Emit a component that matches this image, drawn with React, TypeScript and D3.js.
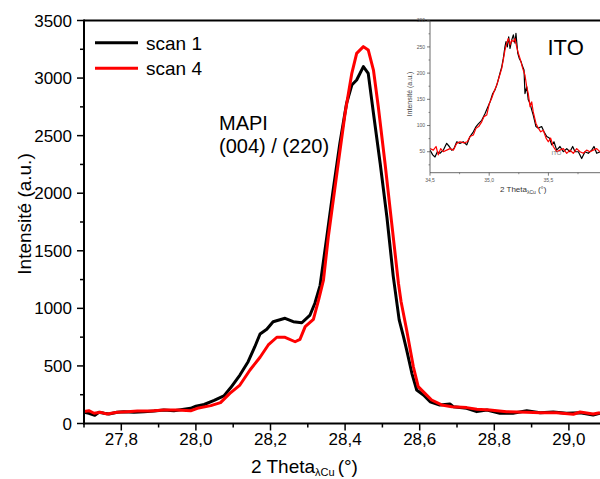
import React from "react";
import * as d3 from "d3";

// ---------- data ----------
const scan1Theta = [27.700, 27.713, 27.729, 27.740, 27.754, 27.767, 27.789, 27.807, 27.834, 27.861, 27.888, 27.914, 27.941, 27.968, 27.986, 28.000, 28.022, 28.049, 28.075, 28.093, 28.118, 28.140, 28.158, 28.172, 28.190, 28.207, 28.239, 28.261, 28.284, 28.306, 28.319, 28.333, 28.351, 28.368, 28.386, 28.404, 28.418, 28.431, 28.449, 28.462, 28.476, 28.494, 28.512, 28.529, 28.545, 28.556, 28.565, 28.579, 28.592, 28.610, 28.628, 28.654, 28.681, 28.690, 28.726, 28.753, 28.780, 28.815, 28.850, 28.887, 28.923, 28.958, 28.994, 29.030, 29.065, 29.083];
const scan1Int = [97, 89, 71, 97, 89, 83, 97, 103, 97, 103, 109, 117, 111, 123, 132, 150, 165, 200, 240, 310, 421, 537, 667, 777, 818, 884, 914, 884, 875, 942, 1044, 1200, 1622, 2028, 2434, 2781, 2940, 2983, 3099, 3041, 2694, 2260, 1796, 1280, 900, 760, 640, 436, 291, 248, 189, 161, 169, 146, 132, 103, 117, 89, 89, 111, 94, 100, 89, 94, 74, 89];

const scan4Theta = [27.700, 27.713, 27.727, 27.745, 27.762, 27.789, 27.816, 27.843, 27.879, 27.914, 27.950, 27.986, 28.004, 28.040, 28.066, 28.091, 28.118, 28.145, 28.172, 28.194, 28.217, 28.239, 28.266, 28.279, 28.293, 28.315, 28.329, 28.342, 28.355, 28.378, 28.400, 28.418, 28.431, 28.449, 28.462, 28.476, 28.489, 28.507, 28.525, 28.543, 28.550, 28.565, 28.583, 28.596, 28.614, 28.632, 28.659, 28.686, 28.726, 28.753, 28.788, 28.833, 28.887, 28.923, 28.967, 29.012, 29.030, 29.065, 29.083];
const scan4Int = [103, 111, 89, 97, 83, 97, 103, 109, 109, 117, 117, 111, 132, 155, 181, 262, 334, 465, 575, 682, 749, 749, 710, 731, 841, 905, 1073, 1246, 1622, 2172, 2694, 3041, 3215, 3273, 3244, 3070, 2751, 2260, 1738, 1218, 1060, 812, 493, 320, 262, 204, 161, 146, 138, 123, 117, 103, 97, 94, 94, 80, 100, 82, 94];

const itoTheta1 = [34.500, 34.523, 34.542, 34.562, 34.584, 34.612, 34.641, 34.663, 34.683, 34.703, 34.726, 34.753, 34.781, 34.810, 34.838, 34.866, 34.889, 34.908, 34.937, 34.965, 34.984, 35.007, 35.030, 35.049, 35.068, 35.091, 35.106, 35.119, 35.133, 35.142, 35.153, 35.165, 35.176, 35.190, 35.204, 35.218, 35.226, 35.241, 35.254, 35.269, 35.283, 35.294, 35.302, 35.317, 35.330, 35.345, 35.359, 35.372, 35.395, 35.415, 35.443, 35.463, 35.486, 35.508, 35.528, 35.547, 35.570, 35.598, 35.626, 35.655, 35.682, 35.705, 35.725, 35.753, 35.781, 35.809, 35.837, 35.866, 35.885, 35.908, 35.936];
const itoInt1 = [53, 44, 40, 50, 47, 53, 66, 60, 53, 56, 69, 66, 69, 63, 79, 88, 98, 103, 110, 123, 133, 145, 161, 168, 180, 200, 212, 228, 250, 260, 250, 269, 247, 263, 273, 257, 276, 238, 228, 222, 212, 206, 161, 174, 149, 142, 130, 120, 98, 95, 98, 88, 79, 76, 63, 69, 53, 60, 50, 56, 50, 60, 50, 50, 37, 50, 47, 53, 60, 47, 50];

const itoTheta4 = [34.500, 34.528, 34.551, 34.570, 34.590, 34.612, 34.641, 34.669, 34.697, 34.726, 34.753, 34.787, 34.815, 34.838, 34.866, 34.889, 34.911, 34.937, 34.956, 34.979, 35.001, 35.021, 35.041, 35.063, 35.085, 35.106, 35.119, 35.133, 35.148, 35.161, 35.176, 35.190, 35.204, 35.218, 35.232, 35.246, 35.260, 35.283, 35.302, 35.317, 35.330, 35.345, 35.359, 35.372, 35.395, 35.415, 35.435, 35.457, 35.480, 35.499, 35.519, 35.541, 35.570, 35.598, 35.626, 35.655, 35.682, 35.710, 35.739, 35.767, 35.795, 35.823, 35.851, 35.879, 35.908, 35.936];
const itoInt4 = [56, 53, 60, 44, 56, 50, 53, 56, 53, 66, 69, 67, 69, 79, 82, 95, 98, 107, 117, 120, 142, 152, 165, 177, 193, 209, 225, 244, 257, 266, 254, 263, 260, 266, 250, 238, 228, 209, 196, 174, 161, 136, 145, 126, 104, 95, 88, 91, 76, 69, 76, 60, 50, 53, 56, 47, 53, 47, 56, 50, 47, 53, 50, 53, 56, 50];

const mainYTicks = [0, 500, 1000, 1500, 2000, 2500, 3000, 3500];
const mainXTicks = [27.8, 28.0, 28.2, 28.4, 28.6, 28.8, 29.0];
const insetYTicks = [50, 100, 150, 200, 250, 300];
const insetXTicks = [34.5, 35.0, 35.5];

const seriesNames = ["scan 1", "scan 4"];
const seriesColors = ["#000000", "#ff0000"];

const FONT = "'Liberation Sans', Arial, Helvetica, sans-serif";
const fmt = (v: number) => v.toFixed(1).replace(".", ",");

export default function App() {
  const W = 600, H = 479;
  // main plot scales
  const x = d3.scaleLinear().domain([27.7, 29.1]).range([84, 84 + 1.4 * 373]);
  const y = d3.scaleLinear().domain([0, 3500]).range([423.5, 20.5]);
  // inset scales
  const xi = d3.scaleLinear().domain([34.5, 36.0]).range([430, 430 + 1.5 * 118.4]);
  const yi = d3.scaleLinear().domain([10, 300]).range([172.7, 20.7]);

  const line = d3.line<[number, number]>().x((d) => x(d[0])).y((d) => y(d[1]));
  const linei = d3.line<[number, number]>().x((d) => xi(d[0])).y((d) => yi(d[1]));

  const s1 = scan1Theta.map((t, i) => [t, scan1Int[i]] as [number, number]);
  const s4 = scan4Theta.map((t, i) => [t, scan4Int[i]] as [number, number]);
  const i1 = itoTheta1.map((t, i) => [t, itoInt1[i]] as [number, number]);
  const i4 = itoTheta4.map((t, i) => [t, itoInt4[i]] as [number, number]);

  const x0 = x.range()[0];
  const y0 = y(0);
  const yMinor = d3.range(250, 3500, 500);
  const xMinor = d3.range(27.7, 29.15, 0.1).filter((v) => !mainXTicks.some((t) => Math.abs(t - v) < 1e-6));
  const xiMinor = [34.75, 35.25, 35.75];
  const yiMinor = d3.range(25, 300, 50);

  return (
    <svg width={W} height={H} style={{ position: "absolute", left: 0, top: 0, background: "#fff" }} fontFamily={FONT}>
      <defs>
        <clipPath id="mainClip">
          <rect x={x0} y={0} width={W - x0} height={y0} />
        </clipPath>
        <clipPath id="insetClip">
          <rect x={xi(34.5)} y={yi(300) - 10} width={W - xi(34.5)} height={yi(10) - yi(300) + 10} />
        </clipPath>
      </defs>
      <rect x={0} y={0} width={W} height={H} fill="#fff" />

      {/* main curves */}
      <g clipPath="url(#mainClip)" fill="none" strokeWidth={3} strokeLinejoin="round">
        <path d={line(s1) || ""} stroke={seriesColors[0]} />
        <path d={line(s4) || ""} stroke={seriesColors[1]} />
      </g>

      {/* main axes */}
      <line x1={x0} x2={W} y1={20.5} y2={20.5} stroke="#000" strokeWidth={2} />
      <line x1={x0} x2={x0} y1={19.5} y2={y0 + 1} stroke="#000" strokeWidth={2} />
      <line x1={x0 - 1} x2={W} y1={y0} y2={y0} stroke="#000" strokeWidth={2} />
      {mainYTicks.map((v) => (
        <g key={"yt" + v}>
          <line x1={x0 - 7} x2={x0} y1={y(v)} y2={y(v)} stroke="#000" strokeWidth={1.5} />
          <text x={72} y={y(v)} dy="0.36em" textAnchor="end" fontSize={17}>{v}</text>
        </g>
      ))}
      {yMinor.map((v) => (
        <line key={"ym" + v} x1={x0 - 4} x2={x0} y1={y(v)} y2={y(v)} stroke="#000" strokeWidth={1.5} />
      ))}
      {mainXTicks.map((v) => (
        <g key={"xt" + v}>
          <line x1={x(v)} x2={x(v)} y1={y0} y2={y0 + 7} stroke="#000" strokeWidth={1.5} />
          <text x={x(v)} y={y0 + 21} textAnchor="middle" fontSize={17}>{fmt(v)}</text>
        </g>
      ))}
      {xMinor.map((v) => (
        <line key={"xm" + v.toFixed(2)} x1={x(v)} x2={x(v)} y1={y0} y2={y0 + 4} stroke="#000" strokeWidth={1.5} />
      ))}

      {/* axis titles */}
      <text transform={`translate(31,${214}) rotate(-90)`} textAnchor="middle" fontSize={19}>Intensité (a.u.)</text>
      <text x={251} y={473} fontSize={19}>
        2 Theta<tspan fontSize={11} dy={3}>λCu</tspan><tspan dy={-3} dx={3}>(°)</tspan>
      </text>

      {/* legend */}
      {seriesNames.map((n, i) => (
        <g key={n}>
          <line x1={95} x2={138} y1={42.7 + i * 25.6} y2={42.7 + i * 25.6} stroke={seriesColors[i]} strokeWidth={3} />
          <text x={146} y={42.7 + i * 25.6 + 7} fontSize={19}>{n}</text>
        </g>
      ))}

      {/* annotation */}
      <text x={219} y={130} fontSize={20}>MAPI</text>
      <text x={219} y={153} fontSize={20}>(004) / (220)</text>

      {/* inset */}
      <g clipPath="url(#insetClip)" fill="none" strokeWidth={1.2} strokeLinejoin="round">
        <path d={linei(i1) || ""} stroke={seriesColors[0]} />
        <path d={linei(i4) || ""} stroke={seriesColors[1]} />
      </g>
      <line x1={xi(34.5)} x2={xi(34.5)} y1={yi(300)} y2={yi(10)} stroke="#444" strokeWidth={0.8} />
      <line x1={xi(34.5)} x2={W} y1={yi(10)} y2={yi(10)} stroke="#444" strokeWidth={0.8} />
      {insetYTicks.map((v) => (
        <g key={"iyt" + v}>
          <line x1={xi(34.5) - 3} x2={xi(34.5)} y1={yi(v)} y2={yi(v)} stroke="#444" strokeWidth={0.7} />
          <text x={xi(34.5) - 5} y={yi(v)} dy="0.35em" textAnchor="end" fontSize={5} fill="#555">{v}</text>
        </g>
      ))}
      {yiMinor.map((v) => (
        <line key={"iym" + v} x1={xi(34.5) - 1.5} x2={xi(34.5)} y1={yi(v)} y2={yi(v)} stroke="#444" strokeWidth={0.6} />
      ))}
      {insetXTicks.map((v) => (
        <g key={"ixt" + v}>
          <line x1={xi(v)} x2={xi(v)} y1={yi(10)} y2={yi(10) + 3} stroke="#444" strokeWidth={0.7} />
          <text x={xi(v)} y={yi(10) + 9} textAnchor="middle" fontSize={5} fill="#555">{fmt(v)}</text>
        </g>
      ))}
      {xiMinor.map((v) => (
        <line key={"ixm" + v} x1={xi(v)} x2={xi(v)} y1={yi(10)} y2={yi(10) + 1.5} stroke="#444" strokeWidth={0.6} />
      ))}
      <text transform={`translate(412,${94}) rotate(-90)`} textAnchor="middle" fontSize={7} fill="#444">Intensité (a.u.)</text>
      <text x={500} y={192} fontSize={8} fill="#333">
        2 Theta<tspan fontSize={5} dy={2}>λCu</tspan><tspan dy={-2} dx={2}>(°)</tspan>
      </text>
      <text x={551.5} y={155} fontSize={6} fill="#777">ITO</text>
      <text x={547.5} y={55} fontSize={22}>ITO</text>
    </svg>
  );
}
